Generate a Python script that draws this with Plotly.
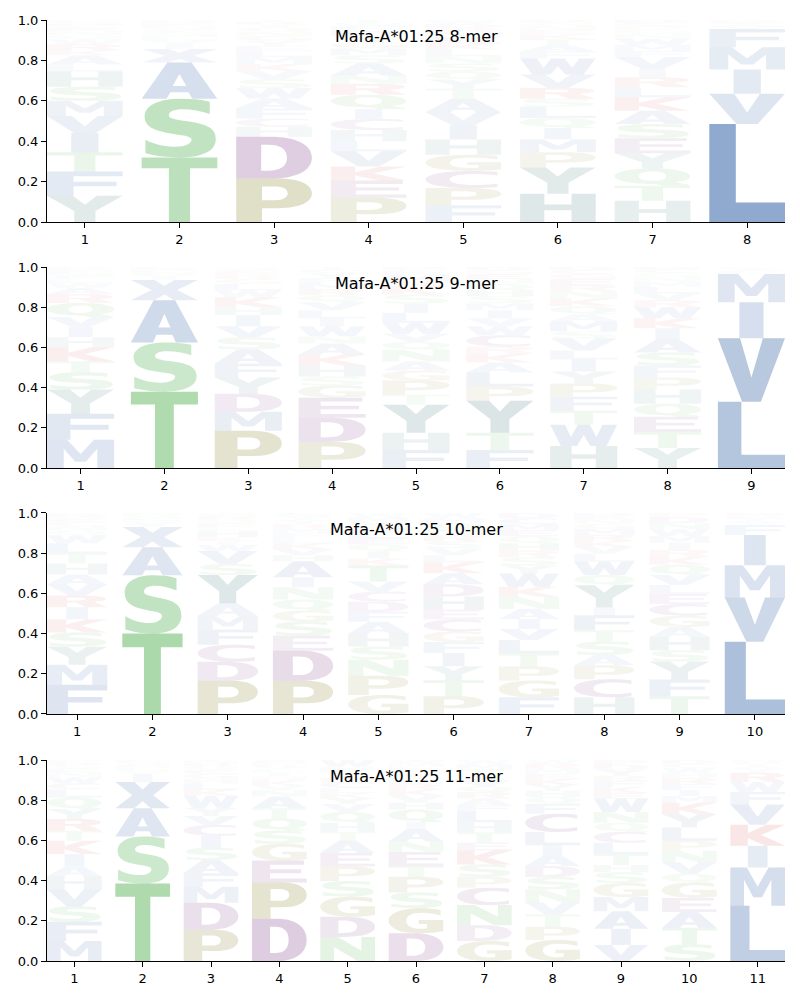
import plotly.graph_objects as go
from plotly.subplots import make_subplots

# ---------------- data (probabilities, listed bottom -> top per position) ----------------
TITLES = ["Mafa-A*01:25 8-mer", "Mafa-A*01:25 9-mer", "Mafa-A*01:25 10-mer", "Mafa-A*01:25 11-mer"]

P8_LETTERS = ["YFTIVMSHLAKRWQNECDGP", "TSAXIVLMGCQNFKREDHY", "PDHCFAWSVKMLEYGNQIRT",
              "PEKVLHCIQRNASMGYDFWT", "FPCGHIVATYQSNLKEMRDW", "HYPMIQLSRVWFATKENGCD",
              "HTQYESAKLRIVFMWNGPCD", "LVIMFYATWKRSCQH"]
P8_VALUES = [
    [.13, .12, .095, .095, .085, .075, .07, .075, .035, .045, .025, .03, .025, .02, .02, .015, .012, .01, .01, .008],
    [.32, .29, .18, .066, .025, .02, .015, .012, .012, .01, .01, .008, .008, .006, .005, .004, .003, .003, .003],
    [.215, .207, .05, .04, .05, .05, .05, .045, .04, .035, .035, .03, .025, .025, .025, .02, .02, .015, .013, .01],
    [.12, .085, .07, .075, .05, .055, .055, .05, .07, .055, .04, .06, .04, .035, .03, .03, .025, .025, .015, .015],
    [.083, .085, .085, .08, .075, .07, .066, .066, .05, .045, .04, .04, .035, .035, .03, .03, .025, .02, .02, .02],
    [.14, .13, .075, .065, .055, .05, .055, .04, .055, .065, .08, .035, .03, .03, .025, .02, .02, .015, .01, .005],
    [.105, .075, .085, .075, .075, .07, .066, .066, .05, .05, .04, .06, .03, .03, .03, .025, .02, .02, .015, .013],
    [.485, .15, .12, .11, .09, .01, .01, .008, .005, .004, .003, .002, .001, .001, .001],
]

P9_LETTERS = ["MFYSTKHIVQRAWLCNEGDP", "TSAXIVGLMQCNF", "PMDYFASVIHKWLGRECQNT",
              "PDEGSHKANWILVQRMFYCT", "FHYTPGANQVWLISKRMECD", "FTYPLAKRCWVIMSHQNEGD",
              "HWTFPYILVSMAQKNREGCD", "YTEQHPFSAIKWRVLMNGCD", "LVIMFATYWC"]
P9_VALUES = [
    [.14, .13, .12, .086, .055, .07, .05, .05, .05, .07, .045, .03, .025, .02, .015, .012, .01, .008, .007, .007],
    [.38, .245, .21, .1, .015, .012, .01, .008, .006, .005, .004, .003, .002],
    [.185, .095, .09, .08, .07, .07, .06, .055, .055, .04, .05, .035, .03, .025, .02, .015, .01, .008, .005, .002],
    [.13, .12, .1, .06, .045, .055, .055, .055, .035, .05, .04, .04, .04, .035, .03, .03, .025, .025, .015, .015],
    [.09, .085, .14, .05, .07, .05, .045, .058, .04, .04, .055, .05, .045, .045, .04, .025, .035, .02, .01, .007],
    [.09, .085, .16, .07, .07, .05, .045, .035, .055, .045, .04, .04, .035, .035, .03, .03, .025, .025, .02, .015],
    [.11, .105, .07, .07, .065, .06, .06, .045, .06, .035, .05, .035, .04, .04, .035, .03, .03, .025, .02, .015],
    [.1, .08, .075, .065, .07, .06, .06, .065, .065, .055, .05, .055, .035, .035, .03, .025, .025, .02, .02, .01],
    [.33, .315, .18, .14, .015, .005, .005, .004, .003, .003],
]

P10_LETTERS = ["FMYSKIRVAHTLWQNCEGDP", "TSAXIVGLMCQNFK", "PDCFMAYSVWIKHLEQRGNT",
               "PDESGQNIAHVKLFMRYTWC", "GPNSHAFDCVTKIQELRYMW", "PTYIFGCEHDAKLVSRNQMW",
               "FGPTLVIANKWYSRHQEMCD", "HCPASTFIYQWLVKRMGNED", "TFYSHAGCELVQKRIMWNDP",
               "LVMIFYATWCKRSQHNGED"]
P10_VALUES = [
    [.145, .1, .09, .07, .066, .06, .058, .055, .05, .055, .05, .05, .04, .025, .02, .02, .015, .012, .01, .009],
    [.4, .29, .14, .1, .012, .01, .01, .008, .008, .006, .005, .005, .003, .003],
    [.165, .095, .085, .075, .068, .063, .14, .055, .065, .03, .02, .02, .03, .02, .02, .015, .015, .01, .007, .002],
    [.165, .15, .075, .07, .055, .055, .06, .05, .08, .03, .03, .03, .025, .025, .025, .02, .02, .015, .01, .01],
    [.095, .095, .08, .066, .063, .06, .05, .05, .05, .05, .08, .035, .035, .035, .03, .03, .025, .025, .025, .021],
    [.088, .08, .07, .065, .055, .052, .06, .05, .065, .06, .055, .055, .035, .035, .035, .03, .03, .03, .025, .025],
    [.083, .083, .07, .066, .066, .055, .05, .05, .06, .05, .066, .04, .04, .035, .035, .035, .03, .03, .03, .026],
    [.083, .09, .07, .05, .068, .055, .075, .04, .11, .05, .066, .04, .035, .03, .03, .03, .025, .02, .02, .013],
    [.088, .083, .09, .056, .066, .05, .056, .058, .05, .045, .05, .05, .04, .035, .035, .033, .035, .03, .03, .02],
    [.36, .22, .16, .15, .05, .012, .01, .008, .006, .004, .004, .003, .003, .002, .002, .002, .002, .001, .001],
]

P11_LETTERS = ["MFSVHAIKTRYQLCWNEGDP", "TSAXIVGLMCQNFKRE", "PDMFASICVYWKLHGEQRNT",
               "DPEGSQTANVKHILYRFMCW", "NDGSPEATHQVYKLCRIFMW", "DGSPTENAIQHVKRLYCFMW",
               "GDNCPSKETHLFARQVIYMW", "GPTVNSDAILCFQHYKEMRW", "VIAMGSHTLCQNWEKFRYDP",
               "STAEGQVNPLYKMIFRHWCD", "LMIKVFWRYATCSQHN"]
P11_VALUES = [
    [.1, .095, .078, .083, .066, .05, .06, .066, .05, .058, .05, .058, .04, .03, .03, .025, .02, .015, .014, .012],
    [.385, .235, .14, .13, .04, .012, .01, .01, .008, .006, .005, .005, .004, .004, .003, .003],
    [.155, .135, .08, .066, .066, .061, .06, .053, .046, .04, .06, .03, .03, .025, .025, .02, .018, .015, .01, .005],
    [.21, .18, .11, .083, .066, .061, .05, .058, .03, .025, .025, .02, .02, .015, .01, .01, .01, .008, .005, .004],
    [.12, .1, .1, .078, .073, .066, .061, .045, .045, .053, .04, .03, .025, .025, .03, .02, .02, .02, .015, .034],
    [.138, .125, .078, .078, .053, .07, .053, .063, .033, .063, .035, .035, .03, .025, .025, .025, .02, .02, .016, .015],
    [.1, .078, .1, .086, .055, .061, .07, .04, .05, .05, .055, .03, .035, .03, .03, .03, .03, .025, .025, .02],
    [.105, .066, .06, .06, .066, .061, .055, .053, .05, .066, .09, .05, .035, .03, .03, .03, .025, .025, .025, .018],
    [.08, .08, .088, .07, .07, .053, .036, .055, .056, .055, .045, .053, .066, .03, .03, .03, .025, .03, .025, .023],
    [.083, .083, .078, .07, .076, .045, .055, .058, .05, .066, .066, .058, .033, .03, .03, .03, .025, .025, .02, .019],
    [.275, .19, .108, .105, .1, .063, .05, .046, .02, .015, .008, .006, .004, .004, .003, .003],
]

PANELS = [(P8_LETTERS, P8_VALUES), (P9_LETTERS, P9_VALUES),
          (P10_LETTERS, P10_VALUES), (P11_LETTERS, P11_VALUES)]

# ---------------- styles ----------------
GROUP_COLORS = {
    "AVLIMFWX": (26, 79, 154),
    "YH": (30, 95, 95),
    "STNQ": (44, 160, 44),
    "DEC": (100, 20, 110),
    "PG": (110, 105, 0),
    "KR": (200, 20, 20),
}
COLOR = {ch: rgb for grp, rgb in GROUP_COLORS.items() for ch in grp}

# glyph outlines in a unit box (x right, y up), bold sans style
GLYPHS = {
    "A": "M 0 0 L 0.34 1 L 0.66 1 L 1 0 L 0.67 0 L 0.62 0.18 L 0.38 0.18 L 0.33 0 Z "
         "M 0.41 0.35 L 0.59 0.35 L 0.5 0.68 Z",
    "C": "M 0.95 0.94 C 0.85 0.99 0.72 1 0.6 1 C 0.25 1 0 0.8 0 0.5 C 0 0.2 0.25 0 0.6 0 "
         "C 0.72 0 0.85 0.01 0.95 0.06 L 0.95 0.27 C 0.85 0.2 0.75 0.18 0.64 0.18 "
         "C 0.45 0.18 0.32 0.3 0.32 0.5 C 0.32 0.7 0.45 0.82 0.64 0.82 C 0.75 0.82 0.85 0.8 0.95 0.73 Z",
    "D": "M 0 0 L 0 1 L 0.45 1 C 0.8 1 1 0.8 1 0.5 C 1 0.2 0.8 0 0.45 0 Z "
         "M 0.33 0.19 L 0.42 0.19 C 0.59 0.19 0.67 0.3 0.67 0.5 C 0.67 0.7 0.59 0.81 0.42 0.81 L 0.33 0.81 Z",
    "E": "M 0 0 L 0 1 L 0.95 1 L 0.95 0.81 L 0.33 0.81 L 0.33 0.6 L 0.9 0.6 L 0.9 0.42 "
         "L 0.33 0.42 L 0.33 0.19 L 1 0.19 L 1 0 Z",
    "F": "M 0 0 L 0 1 L 1 1 L 1 0.81 L 0.35 0.81 L 0.35 0.58 L 0.92 0.58 L 0.92 0.39 L 0.35 0.39 L 0.35 0 Z",
    "G": "M 0.95 0.93 C 0.83 0.98 0.72 1 0.58 1 C 0.23 1 0 0.8 0 0.5 C 0 0.19 0.23 0 0.58 0 "
         "C 0.74 0 0.88 0.03 1 0.09 L 1 0.53 L 0.55 0.53 L 0.55 0.37 L 0.7 0.37 L 0.7 0.2 "
         "C 0.66 0.18 0.62 0.18 0.58 0.18 C 0.42 0.18 0.32 0.3 0.32 0.5 C 0.32 0.7 0.42 0.82 0.6 0.82 "
         "C 0.72 0.82 0.84 0.78 0.95 0.71 Z",
    "H": "M 0 0 L 0 1 L 0.32 1 L 0.32 0.62 L 0.68 0.62 L 0.68 1 L 1 1 L 1 0 L 0.68 0 "
         "L 0.68 0.42 L 0.32 0.42 L 0.32 0 Z",
    "I": "M 0.32 0 L 0.32 1 L 0.68 1 L 0.68 0 Z",
    "K": "M 0 0 L 0 1 L 0.32 1 L 0.32 0.6 L 0.66 1 L 1 1 L 0.56 0.52 L 1 0 L 0.64 0 L 0.32 0.37 L 0.32 0 Z",
    "L": "M 0 0 L 0 1 L 0.35 1 L 0.35 0.2 L 1 0.2 L 1 0 Z",
    "M": "M 0 0 L 0 1 L 0.3 1 L 0.5 0.5 L 0.7 1 L 1 1 L 1 0 L 0.75 0 L 0.75 0.68 L 0.58 0.22 "
         "L 0.42 0.22 L 0.25 0.68 L 0.25 0 Z",
    "N": "M 0 0 L 0 1 L 0.32 1 L 0.75 0.42 L 0.75 1 L 1 1 L 1 0 L 0.68 0 L 0.25 0.58 L 0.25 0 Z",
    "P": "M 0 0 L 0 1 L 0.55 1 C 0.85 1 1 0.85 1 0.66 C 1 0.46 0.85 0.32 0.55 0.32 L 0.34 0.32 L 0.34 0 Z "
         "M 0.34 0.5 L 0.5 0.5 C 0.62 0.5 0.68 0.56 0.68 0.66 C 0.68 0.76 0.62 0.82 0.5 0.82 L 0.34 0.82 Z",
    "Q": "M 0.5 1 C 0.8 1 1 0.8 1 0.55 C 1 0.38 0.92 0.26 0.8 0.2 L 0.98 0.06 L 0.98 0 L 0.62 0 "
         "L 0.55 0.1 L 0.5 0.1 C 0.2 0.1 0 0.3 0 0.55 C 0 0.8 0.2 1 0.5 1 Z "
         "M 0.5 0.82 C 0.38 0.82 0.32 0.72 0.32 0.55 C 0.32 0.38 0.38 0.28 0.5 0.28 "
         "C 0.62 0.28 0.68 0.38 0.68 0.55 C 0.68 0.72 0.62 0.82 0.5 0.82 Z",
    "R": "M 0 0 L 0 1 L 0.55 1 C 0.85 1 0.98 0.87 0.98 0.7 C 0.98 0.58 0.9 0.5 0.78 0.46 L 1 0 "
         "L 0.65 0 L 0.48 0.4 L 0.33 0.4 L 0.33 0 Z "
         "M 0.33 0.58 L 0.5 0.58 C 0.6 0.58 0.65 0.62 0.65 0.7 C 0.65 0.78 0.6 0.82 0.5 0.82 L 0.33 0.82 Z",
    "S": "M 0.9 0.95 C 0.78 0.99 0.64 1 0.52 1 C 0.2 1 0.04 0.87 0.04 0.7 C 0.04 0.52 0.16 0.45 0.42 0.4 "
         "C 0.6 0.37 0.66 0.35 0.66 0.3 C 0.66 0.24 0.58 0.18 0.45 0.18 C 0.3 0.18 0.17 0.22 0.05 0.3 "
         "L 0.05 0.07 C 0.2 0.02 0.35 0 0.5 0 C 0.82 0 0.98 0.12 0.98 0.31 C 0.98 0.5 0.86 0.57 0.58 0.62 "
         "C 0.42 0.65 0.36 0.67 0.36 0.72 C 0.36 0.78 0.43 0.82 0.54 0.82 C 0.66 0.82 0.78 0.79 0.9 0.74 Z",
    "T": "M 0 0.83 L 0 1 L 1 1 L 1 0.83 L 0.64 0.83 L 0.64 0 L 0.36 0 L 0.36 0.83 Z",
    "V": "M 0 1 L 0.33 1 L 0.5 0.38 L 0.67 1 L 1 1 L 0.64 0 L 0.36 0 Z",
    "W": "M 0 1 L 0.22 1 L 0.31 0.42 L 0.41 1 L 0.59 1 L 0.69 0.42 L 0.78 1 L 1 1 L 0.84 0 L 0.6 0 "
         "L 0.5 0.52 L 0.4 0 L 0.16 0 Z",
    "Y": "M 0 1 L 0.34 1 L 0.5 0.66 L 0.66 1 L 1 1 L 0.64 0.42 L 0.64 0 L 0.36 0 L 0.36 0.42 Z",
    "X": "M 0 1 L 0.35 1 L 0.5 0.72 L 0.65 1 L 1 1 L 0.69 0.5 L 1 0 L 0.65 0 L 0.5 0.28 "
         "L 0.35 0 L 0 0 L 0.31 0.5 Z",
}

GLYPH_WIDTH = 0.8


def glyph_path(letter, xc, y0, h):
    out, nums = [], []
    for tok in GLYPHS[letter].split():
        if tok.isalpha():
            out.append(tok)
        else:
            nums.append(float(tok))
            if len(nums) == 2:
                x = xc - GLYPH_WIDTH / 2 + nums[0] * GLYPH_WIDTH
                y = y0 + nums[1] * h
                out.append(f"{x:.4f},{y:.5f}")
                nums = []
    return " ".join(out)


# ---------------- figure ----------------
fig = make_subplots(rows=4, cols=1, vertical_spacing=0.0478)
DOMAINS = [(0.7853, 1.0), (0.5239, 0.7375), (0.2625, 0.4761), (0.0, 0.2136)]
FONT = "DejaVu Sans"

shapes = []
for k, (letters, values) in enumerate(PANELS):
    n = len(letters)
    sfx = "" if k == 0 else str(k + 1)
    positions = list(range(1, n + 1))
    fig.add_trace(go.Scatter(x=positions, y=[0] * n, mode="markers",
                             marker=dict(opacity=0, size=1), hoverinfo="skip",
                             showlegend=False), row=k + 1, col=1)
    for pos, lets, vals in zip(positions, letters, values):
        y0 = 0.0
        for ch, v in zip(lets, vals):
            r, g, b = COLOR[ch]
            alpha = min(1.0, max(0.02, v))
            shapes.append(dict(type="path", xref="x" + sfx, yref="y" + sfx,
                               path=glyph_path(ch, pos, y0, v),
                               fillcolor=f"rgba({r},{g},{b},{alpha:.3f})",
                               line=dict(width=0), fillrule="evenodd", layer="above"))
            y0 += v
    fig.update_xaxes(row=k + 1, col=1, range=[0.6, n + 0.4], tickvals=positions,
                     ticktext=[str(p) for p in positions], showgrid=False, zeroline=False,
                     showline=True, linecolor="black", linewidth=1, ticks="outside",
                     ticklen=5, tickwidth=1, tickcolor="black", automargin=False,
                     tickfont=dict(family=FONT, size=13, color="black"))
    fig.update_yaxes(row=k + 1, col=1, range=[0, 1], tickvals=[0, 0.2, 0.4, 0.6, 0.8, 1.0],
                     ticktext=["0.0", "0.2", "0.4", "0.6", "0.8", "1.0"], showgrid=False,
                     zeroline=False, showline=True, linecolor="black", linewidth=1,
                     ticks="outside", ticklen=5, tickwidth=1, tickcolor="black", automargin=False,
                     tickfont=dict(family=FONT, size=13, color="black"),
                     domain=list(DOMAINS[k]))
    fig.add_annotation(text=TITLES[k], xref=f"x{sfx} domain", yref=f"y{sfx} domain",
                       x=0.5, y=0.92, xanchor="center", yanchor="middle", showarrow=False,
                       font=dict(family=FONT, size=16, color="black"))

# the page body adds an 8px offset, so margins are reduced accordingly
fig.update_layout(width=800, height=1000, margin=dict(l=39, r=23, t=12, b=47),
                  plot_bgcolor="white", paper_bgcolor="white", shapes=shapes,
                  font=dict(family=FONT, color="black"), showlegend=False)
fig.write_html("out.html")
